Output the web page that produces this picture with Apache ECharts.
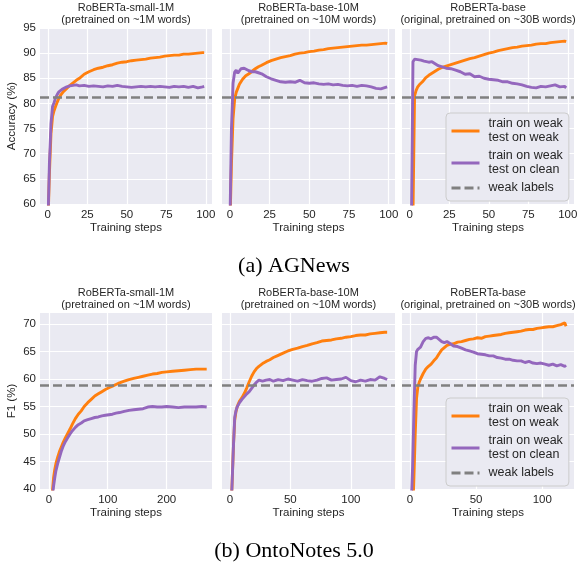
<!DOCTYPE html>
<html><head><meta charset="utf-8">
<script src="https://cdn.jsdelivr.net/npm/echarts@6/dist/echarts.min.js"></script>
<style>html,body{margin:0;padding:0;background:#fff}#c{width:582px;height:563px}</style>
</head><body><div id="c"></div>
<script>
// ---------- data ----------
const stepsAG = [0,1,2,3,4,5,6,7,8,9,10,12,14,16,18,20,23,26,29,32,35,38,41,44,47,50,53,56,59,62,65,68,71,74,77,80,83,86,89,92,95,98,99];
const agSmallWeak  = [55,66,74,77.4,78.6,79.5,80.3,81.0,81.6,82.0,82.4,83.0,83.6,84.1,84.6,85.0,85.8,86.3,86.7,87.0,87.2,87.5,87.7,88.0,88.2,88.3,88.5,88.6,88.7,88.8,89.0,89.1,89.2,89.4,89.5,89.6,89.6,89.8,89.8,89.9,90.0,90.1,90.1];
const agSmallClean = [55,68,76,79.4,80.2,81.2,81.8,82.3,82.6,82.8,83.0,83.3,83.5,83.6,83.7,83.5,83.6,83.4,83.5,83.4,83.3,83.5,83.4,83.6,83.4,83.3,83.2,83.3,83.4,83.3,83.4,83.3,83.4,83.3,83.2,83.4,83.3,83.4,83.2,83.4,83.1,83.3,83.4];
const agBase10Weak  = [55,68,77,80.8,82.2,83.0,83.8,84.3,84.8,85.1,85.5,85.9,86.4,86.9,87.3,87.6,88.1,88.5,88.8,89.1,89.3,89.5,89.8,90.0,90.1,90.3,90.4,90.6,90.7,90.9,91.0,91.1,91.2,91.3,91.4,91.5,91.6,91.6,91.7,91.8,91.9,92.0,91.9];
const agBase10Clean = [55,75,84,86.2,86.6,86.0,86.3,86.9,87.2,87.0,86.8,86.5,86.3,86.3,86.1,85.9,85.3,84.9,84.6,84.3,84.2,84.3,84.2,84.6,84.1,84.0,84.1,83.9,83.8,83.9,83.7,83.8,83.6,83.5,83.6,83.4,83.6,83.5,83.3,83.0,82.9,83.2,83.3];
const agBaseWeak  = [45,52,58,81.5,82.6,83.3,83.7,84.0,84.3,84.6,85.1,85.6,86.0,86.4,86.8,87.1,87.4,87.7,88.0,88.3,88.6,88.9,89.1,89.4,89.7,90.0,90.2,90.5,90.7,90.9,91.1,91.2,91.4,91.5,91.6,91.8,91.9,91.9,92.1,92.2,92.3,92.4,92.3];
const agBaseClean = [45,56,88.3,88.8,88.9,88.7,88.9,88.6,88.7,88.4,88.5,88.2,88.3,87.9,87.5,87.3,87.0,86.9,86.6,86.3,85.8,85.9,85.3,85.4,85.0,84.8,84.7,84.6,84.3,84.3,84.0,83.9,83.7,83.4,83.2,83.1,83.4,83.3,83.5,83.7,83.3,83.4,83.1];

const stepsOntoSmall = [6,8,10,12,15,18,21,24,28,32,36,40,45,50,55,60,66,72,78,84,90,96,102,108,114,120,128,136,144,152,160,168,176,184,192,200,210,220,230,240,250,260,268];
const ontoSmallWeak  = [39.5,42.0,43.5,44.6,45.8,46.8,47.6,48.4,49.3,50.1,50.9,51.8,52.8,53.6,54.2,55.0,55.7,56.3,56.9,57.3,57.7,58.1,58.4,58.7,59.0,59.3,59.6,59.9,60.1,60.3,60.5,60.7,60.9,61.0,61.2,61.3,61.4,61.5,61.6,61.7,61.8,61.8,61.8];
const ontoSmallClean = [38.5,40.5,42.0,43.3,44.6,45.7,46.8,47.7,48.6,49.3,50.0,50.6,51.2,51.7,52.0,52.4,52.6,52.8,53.0,53.1,53.3,53.4,53.5,53.6,53.8,53.9,54.1,54.3,54.4,54.5,54.6,54.9,55.0,54.9,54.9,55.0,54.9,54.8,54.9,54.9,54.9,55.0,54.9];

const stepsOntoBase10 = [0,2,3,4,5,6,7,8,9,10,12,14,16,18,20,22,24,27,30,33,36,40,44,48,52,56,60,64,68,72,76,80,84,88,92,96,100,104,108,112,116,120,124,128,130];
const ontoBase10Weak  = [30,42,48,52.5,54.0,54.9,55.5,56.0,56.3,56.6,57.4,58.4,59.5,60.5,61.3,61.9,62.3,62.8,63.2,63.5,63.9,64.3,64.7,65.1,65.4,65.6,65.9,66.1,66.4,66.6,66.9,67.0,67.1,67.3,67.4,67.6,67.7,67.9,68.0,68.0,68.2,68.3,68.4,68.5,68.5];
const ontoBase10Clean = [30,42,48,53.0,54.2,54.9,55.3,55.7,56.0,56.3,56.8,57.3,57.7,58.3,58.9,59.4,59.8,59.6,59.8,59.9,59.6,59.9,59.7,60.0,59.8,59.6,59.9,59.7,59.6,59.8,60.1,60.2,59.8,59.9,60.0,60.3,59.7,59.5,59.8,59.6,59.9,59.8,60.4,60.1,59.9];

const stepsOntoBase = [0,2,3,4,5,6,7,8,9,10,12,14,16,18,20,22,24,26,28,30,33,36,39,42,45,48,51,54,57,60,63,66,69,72,75,78,81,84,87,90,93,96,99,102,105,108,111,114,117,118];
const ontoBaseWeak  = [25,35,42,50,56.5,58.6,59.4,60.0,60.5,61.0,61.8,62.3,62.7,63.3,63.8,64.6,65.3,65.7,66.1,66.3,66.4,66.7,66.8,67.0,67.2,67.3,67.5,67.4,67.7,67.8,67.9,68.0,68.1,68.3,68.4,68.5,68.6,68.7,68.9,69.0,69.0,69.2,69.3,69.4,69.5,69.5,69.7,69.9,70.2,69.6];
const ontoBaseClean = [30,44,54,62.5,65.0,65.4,65.3,65.8,66.3,66.8,67.4,67.5,67.3,67.6,67.6,67.2,66.8,66.6,66.8,66.5,66.0,65.9,65.6,65.3,65.1,64.9,64.6,64.5,64.4,64.2,64.2,63.9,63.8,63.6,63.6,63.4,63.3,63.3,63.0,63.2,62.9,62.8,62.9,62.7,62.5,62.7,62.4,62.6,62.3,62.5];

const weakAG = 81.2;
const weakOnto = 58.9;

const seriesNames = ['train on weak\ntest on weak', 'train on weak\ntest on clean', 'weak labels'];
const titleLine1 = ['RoBERTa-small-1M', 'RoBERTa-base-10M', 'RoBERTa-base'];
const titleLine2 = ['(pretrained on ~1M words)', '(pretrained on ~10M words)', '(original, pretrained on ~30B words)'];
const captions = ['(a) AGNews', '(b) OntoNotes 5.0'];
const yNames = ['Accuracy (%)', 'F1 (%)'];
const xName = 'Training steps';
const xTicksAG = [0, 25, 50, 75, 100];
const xTicksOntoSmall = [0, 100, 200];
const xTicksOntoBase = [0, 50, 100];
const yTicksAG = [60, 65, 70, 75, 80, 85, 90, 95];
const yTicksOnto = [40, 45, 50, 55, 60, 65, 70];

// ---------- layout / style ----------
const FONT = '"Liberation Sans", Arial, sans-serif';
const TXT = '#262626';
const ORANGE = '#ff7f0e', PURPLE = '#9467bd', GREY = '#808080';
const panelLeft = [40, 222, 402], panelWidth = [172, 173, 172];
const rowTop = [28, 313], plotH = 176;

const panels = [
  {row:0, col:0, steps:stepsAG, w:agSmallWeak, c:agSmallClean, weak:weakAG, xr:[-4.95,103.95], xt:xTicksAG, yr:[60,95], yt:yTicksAG},
  {row:0, col:1, steps:stepsAG, w:agBase10Weak, c:agBase10Clean, weak:weakAG, xr:[-4.95,103.95], xt:xTicksAG, yr:[60,95], yt:yTicksAG},
  {row:0, col:2, steps:stepsAG, w:agBaseWeak, c:agBaseClean, weak:weakAG, xr:[-4.95,103.95], xt:xTicksAG, yr:[60,95], yt:yTicksAG},
  {row:1, col:0, steps:stepsOntoSmall, w:ontoSmallWeak, c:ontoSmallClean, weak:weakOnto, xr:[-15,277], xt:xTicksOntoSmall, yr:[40,72], yt:yTicksOnto},
  {row:1, col:1, steps:stepsOntoBase10, w:ontoBase10Weak, c:ontoBase10Clean, weak:weakOnto, xr:[-6.5,136.5], xt:xTicksOntoBase, yr:[40,72], yt:yTicksOnto},
  {row:1, col:2, steps:stepsOntoBase, w:ontoBaseWeak, c:ontoBaseClean, weak:weakOnto, xr:[-6,124], xt:xTicksOntoBase, yr:[40,72], yt:yTicksOnto},
];

const zip = (xs, ys) => xs.map((x, i) => [x, ys[i]]);

const grid = [], xAxis = [], yAxis = [], series = [], graphic = [];
const labelStyle = {fontSize: 11.5, color: TXT, fontFamily: FONT};

panels.forEach((p, i) => {
  grid.push({left: panelLeft[p.col], top: rowTop[p.row], width: panelWidth[p.col], height: plotH,
    show: true, backgroundColor: '#eaeaf2', borderWidth: 0, containLabel: false});
  xAxis.push({type: 'value', gridIndex: i, min: p.xr[0], max: p.xr[1],
    name: xName, nameLocation: 'middle', nameGap: 18, nameTextStyle: labelStyle,
    axisLine: {show: false}, axisTick: {show: false, customValues: p.xt},
    axisLabel: Object.assign({customValues: p.xt, margin: 5}, labelStyle),
    splitLine: {show: true, lineStyle: {color: '#ffffff', width: 1.2}}});
  const first = p.col === 0;
  yAxis.push({type: 'value', gridIndex: i, min: p.yr[0], max: p.yr[1],
    name: first ? yNames[p.row] : '', nameLocation: 'middle', nameGap: 22, nameTextStyle: labelStyle,
    axisLine: {show: false}, axisTick: {show: false, customValues: p.yt},
    axisLabel: Object.assign({show: first, customValues: p.yt, margin: 4}, labelStyle),
    splitLine: {show: true, lineStyle: {color: '#ffffff', width: 1.2}}});
  series.push({type: 'line', name: seriesNames[0], xAxisIndex: i, yAxisIndex: i,
    data: zip(p.steps, p.w), symbol: 'none', showSymbol: false, clip: true,
    lineStyle: {color: ORANGE, width: 2.9}, itemStyle: {color: ORANGE}, z: 3});
  series.push({type: 'line', name: seriesNames[1], xAxisIndex: i, yAxisIndex: i,
    data: zip(p.steps, p.c), symbol: 'none', showSymbol: false, clip: true,
    lineStyle: {color: PURPLE, width: 2.9}, itemStyle: {color: PURPLE}, z: 4});
  series.push({type: 'line', name: seriesNames[2], xAxisIndex: i, yAxisIndex: i,
    data: [], symbol: 'none', showSymbol: false,
    lineStyle: {color: GREY, width: 2.5, type: [9, 4]}, itemStyle: {color: GREY}, z: 5,
    markLine: {silent: true, symbol: ['none', 'none'], label: {show: false},
      lineStyle: {color: GREY, width: 2.5, type: [9, 4]},
      emphasis: {disabled: true},
      data: [{yAxis: p.weak}]}});
});

const titleCenters = [126, 308.5, 488];
[0, 1].forEach(r => {
  const y0 = rowTop[r];
  for (let c = 0; c < 3; c++) {
    graphic.push({type: 'text', x: titleCenters[c], y: y0 - 20.5, silent: true,
      style: {text: titleLine1[c], fontSize: 11, fontFamily: FONT, fill: TXT, align: 'center', verticalAlign: 'middle'}});
    graphic.push({type: 'text', x: titleCenters[c], y: y0 - 7.8, silent: true,
      style: {text: titleLine2[c], fontSize: 11, fontFamily: FONT, fill: TXT, align: 'center', verticalAlign: 'middle'}});
  }
});
graphic.push({type: 'text', x: 294, y: 266.7, silent: true,
  style: {text: captions[0], fontSize: 22, fontFamily: '"Liberation Serif", "Times New Roman", serif', fill: '#000', align: 'center', verticalAlign: 'middle'}});
graphic.push({type: 'text', x: 294, y: 551.5, silent: true,
  style: {text: captions[1], fontSize: 22, fontFamily: '"Liberation Serif", "Times New Roman", serif', fill: '#000', align: 'center', verticalAlign: 'middle'}});

const legendBase = {orient: 'vertical', left: 446, selectedMode: false, data: seriesNames,
  itemWidth: 28, itemHeight: 14, itemGap: 4, padding: [4, 6, 6, 4],
  itemStyle: {opacity: 0, borderWidth: 0},
  lineStyle: {width: 3},
  backgroundColor: '#eaeaf2', borderColor: '#cccccc', borderWidth: 1, borderRadius: 4,
  textStyle: {fontSize: 12.5, lineHeight: 14, color: TXT, fontFamily: FONT, padding: [0, 0, 0, 4]}};

const option = {
  animation: false,
  backgroundColor: '#ffffff',
  grid, xAxis, yAxis, series, graphic,
  legend: [Object.assign({top: 113}, legendBase), Object.assign({top: 398}, legendBase)]
};
const chart = echarts.init(document.getElementById('c'), null, {renderer: 'canvas'});
chart.setOption(option);
</script>
</body></html>
